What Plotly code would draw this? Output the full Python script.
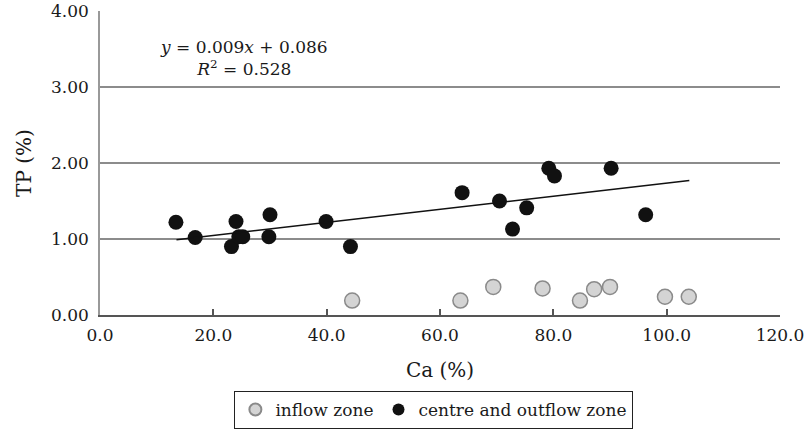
import plotly.graph_objects as go

# centre and outflow zone (black)
centre_ca = [13.4, 16.8, 23.2, 24.0, 24.5, 25.2, 30.0, 29.8, 39.9, 44.2,
             63.9, 70.5, 72.8, 75.3, 79.2, 80.2, 90.2, 96.3]
centre_tp = [1.22, 1.02, 0.90, 1.23, 1.03, 1.03, 1.32, 1.03, 1.23, 0.90,
             1.61, 1.50, 1.13, 1.41, 1.93, 1.83, 1.93, 1.32]

# inflow zone (grey)
inflow_ca = [44.5, 63.6, 69.4, 78.1, 84.7, 87.2, 90.0, 99.7, 103.9]
inflow_tp = [0.19, 0.19, 0.37, 0.35, 0.19, 0.34, 0.37, 0.24, 0.24]

# trend line endpoints as drawn
trend_ca = [13.5, 104.0]
trend_tp = [0.99, 1.77]

x_ticks = [0, 20, 40, 60, 80, 100, 120]
y_ticks = [0, 1, 2, 3, 4]

FONT = "DejaVu Serif"
TXT = "#1a1a1a"

fig = go.Figure()
fig.add_trace(go.Scatter(
    x=inflow_ca, y=inflow_tp, mode="markers", name="inflow zone",
    marker=dict(size=15, color="#d4d4d4", line=dict(color="#8a8a8a", width=1.5)),
))
fig.add_trace(go.Scatter(
    x=centre_ca, y=centre_tp, mode="markers", name="centre and outflow zone",
    marker=dict(size=15, color="#111111", line=dict(width=0)),
))
fig.add_trace(go.Scatter(
    x=trend_ca, y=trend_tp, mode="lines", showlegend=False,
    line=dict(color="#111111", width=1.5), hoverinfo="skip",
))

fig.add_annotation(
    x=(244 - 100) / 680, y=(315 - 58) / 304, xref="paper", yref="paper",
    xanchor="center", yanchor="middle",
    text="<i>y</i> = 0.009<i>x</i> + 0.086<br><i>R</i><sup>2</sup> = 0.528",
    showarrow=False, align="center", font=dict(family=FONT, size=17, color=TXT),
)

fig.update_layout(
    width=804, height=433,
    margin=dict(l=100, r=24, t=11, b=118, autoexpand=False),
    paper_bgcolor="white", plot_bgcolor="white",
    font=dict(family=FONT, size=17, color=TXT),
    showlegend=True,
    legend=dict(
        orientation="h", x=0.491, xanchor="center", y=-0.250, yanchor="top",
        bordercolor="#222", borderwidth=1, font=dict(family=FONT, size=17, color=TXT),
        itemsizing="constant", tracegroupgap=0, itemwidth=30,
    ),
    xaxis=dict(
        range=[0, 120], tickvals=x_ticks, ticktext=[f"{v:.1f}" for v in x_ticks],
        showgrid=False, zeroline=False, showline=True, linecolor="#555", linewidth=1.5,
        ticks="inside", ticklen=6, tickcolor="#555", tickwidth=1.5, automargin=False,
        ticklabeloverflow="allow",
        title=dict(text="Ca (%)", standoff=19), ticklabelstandoff=4,
    ),
    yaxis=dict(
        range=[0, 4], tickvals=y_ticks, ticktext=[f"{v:.2f}" for v in y_ticks],
        showgrid=True, gridcolor="#8c8c8c", gridwidth=1.5, automargin=False,
        zeroline=False, showline=True, linecolor="#999", linewidth=1.5,
        ticks="", title=dict(text="TP (%)", standoff=14), ticklabelstandoff=6,
    ),
)

fig.write_html("out.html", config={"displayModeBar": False},
               post_script="document.body.style.margin='0';")
